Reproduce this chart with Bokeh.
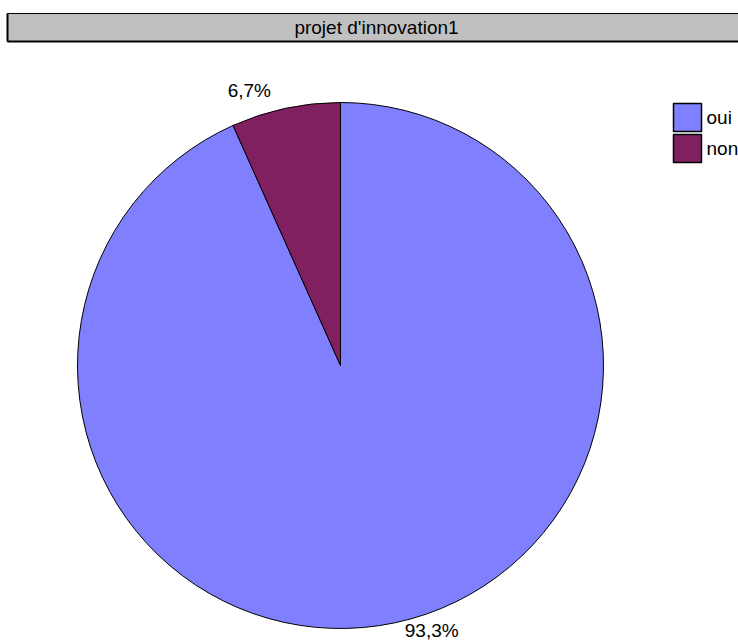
import math
from bokeh.plotting import figure
from bokeh.models import Range1d
from bokeh.core.properties import value
from bokeh.embed import file_html
from bokeh.resources import INLINE

title_text = "projet d'innovation1"
categories = ["oui", "non"]
percents = [93.3, 6.7]
labels = ["93,3%", "6,7%"]
colors = ["#8080FF", "#802060"]

W, H = 738, 641
FONT = "Liberation Sans"

p = figure(width=W, height=H, x_range=Range1d(0, W), y_range=Range1d(0, H),
           output_backend="svg", toolbar_location=None, min_border=0)
p.axis.visible = False
p.grid.visible = False
p.outline_line_color = None
p.background_fill_color = "white"
p.border_fill_color = "white"

def Y(y):
    return H - y

# title bar
p.quad(left=[7], right=[745], top=[Y(13)], bottom=[Y(41)], fill_color="#C0C0C0",
       line_color="black", line_width=1)
p.segment(x0=[7], y0=[Y(41)], x1=[745], y1=[Y(41)], line_color="black", line_width=2)
p.segment(x0=[7], y0=[Y(13)], x1=[7], y1=[Y(41)], line_color="black", line_width=2)
p.text(x=[376], y=[Y(27)], text=[title_text], text_align="center", text_baseline="middle",
       text_font=value(FONT), text_font_size="19px", text_color="black")

# pie
cx, cy, R = 340, Y(365), 263
total = sum(percents)
start = math.pi / 2
starts, ends, lx, ly = [], [], [], []
for v in percents:
    span = v / total * 2 * math.pi
    s = start
    e = start - span
    starts.append(s)
    ends.append(e)
    mid = (s + e) / 2 + math.radians(6.6)
    lx.append(cx + (R + 22) * math.cos(mid))
    ly.append(cy + (R + 22) * math.sin(mid) + 5)
    start = e

p.wedge(x=[cx] * len(percents), y=[cy] * len(percents), radius=R,
        start_angle=starts, end_angle=ends, direction="clock",
        fill_color=colors, line_color="black", line_width=1)
p.text(x=lx, y=ly, text=labels, text_align="center", text_baseline="middle",
       text_font=value(FONT), text_font_size="19px", text_color="black")

# legend
lg_x, lg_y, box, step = 673, 103, 28, 31
for i, (c, col) in enumerate(zip(categories, colors)):
    top = lg_y + i * step
    p.quad(left=[lg_x], right=[lg_x + box], top=[Y(top)], bottom=[Y(top + box)],
           fill_color=col, line_color="black", line_width=1.5)
    p.text(x=[lg_x + box + 5], y=[Y(top + box / 2)], text=[c], text_align="left",
           text_baseline="middle", text_font=value(FONT), text_font_size="19px",
           text_color="black")

open("out.html", "w").write(file_html(p, INLINE))
